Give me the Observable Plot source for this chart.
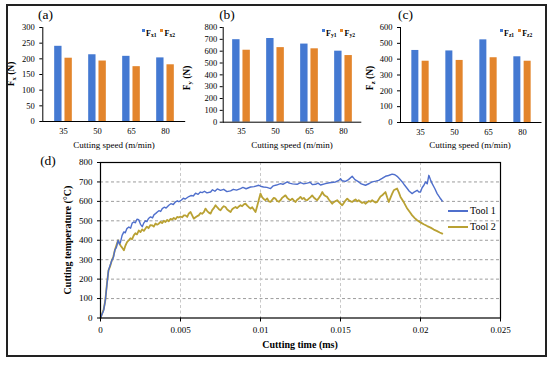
<!DOCTYPE html>
<html><head><meta charset="utf-8">
<script src="https://cdn.jsdelivr.net/npm/d3@7"></script>
<script src="https://cdn.jsdelivr.net/npm/@observablehq/plot@0.6"></script>
<style>
body{margin:0;background:#fff;}
#wrap{position:relative;width:550px;height:365px;overflow:hidden;font-family:"Liberation Serif",serif;background:#fff;}
.t{position:absolute;font-family:"Liberation Serif",serif;color:#000;white-space:nowrap;line-height:1;}
.c{transform:translate(-50%,-50%);}
.r{transform:translate(-50%,-50%) rotate(-90deg);}
sub{font-size:70%;vertical-align:-0.25em;}
</style></head>
<body><div id="wrap"></div>
<script>
// ---------- data ----------
const speeds = ["35", "50", "65", "80"];
const fx1 = [240, 213, 208, 203];
const fx2 = [202, 193, 175, 181];
const fy1 = [697, 707, 660, 600];
const fy2 = [608, 630, 620, 563];
const fz1 = [455, 452, 522, 415];
const fz2 = [387, 392, 409, 387];
const yTicksA = [0, 50, 100, 150, 200, 250, 300];
const yTicksB = [0, 100, 200, 300, 400, 500, 600, 700, 800];
const yTicksC = [0, 100, 200, 300, 400, 500, 600];
const xTicksD = [0, 0.005, 0.01, 0.015, 0.02, 0.025];
const yTicksD = [0, 100, 200, 300, 400, 500, 600, 700, 800];

const tool1 = [
[0,0],[0.0002,40],[0.0003,90],[0.0004,170],[0.0005,245],[0.0006,270],[0.0007,295],[0.0008,310],[0.0009,350],[0.001,365],
[0.0011,400],[0.00118,380],[0.00125,390],[0.00135,425],[0.00146,443],[0.00155,438],[0.00165,460],[0.00177,468],[0.00188,462],[0.00198,488],
[0.00208,494],[0.00218,490],[0.00228,508],[0.00239,506],[0.0025,482],[0.00261,470],[0.0027,488],[0.00281,500],[0.0029,496],[0.003,512],
[0.00313,520],[0.00325,515],[0.00335,532],[0.00344,537],[0.00355,545],[0.00365,552],[0.00376,548],[0.00386,563],[0.00398,570],[0.0041,566],
[0.00427,580],[0.0044,588],[0.00455,584],[0.00469,598],[0.0048,603],[0.0049,598],[0.00506,607],[0.00518,616],[0.0053,612],[0.00552,625],
[0.00565,630],[0.0058,628],[0.00594,642],[0.0061,636],[0.00624,648],[0.00636,645],[0.0065,652],[0.00665,644],[0.00688,648],[0.007,660],
[0.00715,652],[0.0073,664],[0.0075,657],[0.0077,662],[0.0079,650],[0.00813,654],[0.0083,662],[0.0085,658],[0.00875,666],[0.0089,672],
[0.0091,665],[0.00938,674],[0.0096,676],[0.00989,683],[0.01,678],[0.01019,674],[0.0104,672],[0.01063,666],[0.0108,680],[0.011,684],
[0.01125,691],[0.0114,688],[0.01167,700],[0.0118,694],[0.012,690],[0.01229,688],[0.0125,696],[0.0127,690],[0.01292,694],[0.0131,698],
[0.01325,686],[0.01344,688],[0.0136,694],[0.01375,684],[0.01406,691],[0.0143,696],[0.01469,700],[0.0149,708],[0.015,717],[0.0151,706],
[0.01531,703],[0.0155,712],[0.01573,729],[0.0159,712],[0.01614,700],[0.0163,690],[0.01656,683],[0.0168,692],[0.01698,700],[0.0172,704],
[0.01739,708],[0.0176,718],[0.01781,729],[0.018,733],[0.01823,740],[0.0184,737],[0.01854,729],[0.0187,715],[0.01886,700],[0.019,684],
[0.01917,666],[0.0193,652],[0.01948,640],[0.0196,648],[0.01979,657],[0.0199,648],[0.02,648],[0.0201,670],[0.02021,683],[0.02032,700],
[0.02042,690],[0.02052,734],[0.02062,712],[0.02073,691],[0.0209,665],[0.02104,640],[0.0212,620],[0.02136,602]
];
const tool2 = [
[0,0],[0.0002,45],[0.0003,90],[0.0004,175],[0.0005,245],[0.0006,265],[0.0007,295],[0.0008,315],[0.0009,350],[0.001,375],
[0.0011,400],[0.00118,385],[0.00125,373],[0.00135,362],[0.00146,348],[0.00156,373],[0.00166,390],[0.00177,400],[0.00187,410],[0.00197,405],
[0.00208,425],[0.00218,436],[0.00228,430],[0.00239,450],[0.0025,442],[0.0026,456],[0.00271,448],[0.00281,460],[0.0029,470],[0.003,462],
[0.00312,478],[0.00323,477],[0.00333,470],[0.00344,486],[0.00354,480],[0.00364,485],[0.00375,495],[0.00385,488],[0.00396,500],[0.00406,494],
[0.00417,505],[0.00427,498],[0.00438,510],[0.00448,506],[0.00458,515],[0.00469,508],[0.00479,520],[0.00489,517],[0.005,522],[0.0051,518],
[0.00521,528],[0.00531,528],[0.00542,520],[0.00552,538],[0.00563,545],[0.00573,528],[0.00583,511],[0.00594,518],[0.00604,524],[0.00614,528],
[0.00625,540],[0.00635,536],[0.00646,545],[0.00656,563],[0.00667,550],[0.00677,542],[0.00688,537],[0.00698,555],[0.00708,565],[0.00719,580],
[0.00729,570],[0.0074,560],[0.0075,554],[0.0076,566],[0.00771,575],[0.00781,571],[0.00792,558],[0.00802,552],[0.00813,545],[0.00823,560],
[0.00833,566],[0.00844,571],[0.00854,565],[0.00865,574],[0.00875,580],[0.00885,575],[0.00896,585],[0.00906,588],[0.00917,578],[0.00927,570],
[0.00938,563],[0.00948,570],[0.00958,558],[0.00969,545],[0.00979,575],[0.0099,610],[0.01,640],[0.0101,622],[0.0102,612],[0.01031,606],
[0.01042,615],[0.01052,600],[0.01063,597],[0.01073,608],[0.01083,618],[0.01094,614],[0.01104,602],[0.01115,598],[0.01125,606],[0.01135,618],
[0.01146,625],[0.01156,631],[0.01167,618],[0.01177,610],[0.01188,606],[0.01198,614],[0.01208,605],[0.01219,597],[0.01229,608],[0.0124,615],
[0.0125,623],[0.0126,612],[0.01271,618],[0.01281,608],[0.01292,606],[0.01302,614],[0.01313,622],[0.01323,631],[0.01333,620],[0.01344,612],
[0.01354,606],[0.01365,618],[0.01375,630],[0.01386,648],[0.01396,634],[0.01406,628],[0.01417,623],[0.01427,610],[0.01438,598],[0.01448,588],
[0.01458,596],[0.01469,602],[0.01479,606],[0.0149,596],[0.015,588],[0.01511,580],[0.01521,592],[0.01531,604],[0.01542,614],[0.01552,606],
[0.01563,600],[0.01573,597],[0.01583,604],[0.01594,610],[0.01604,600],[0.01614,606],[0.01625,598],[0.01635,592],[0.01646,596],[0.01656,588],
[0.01667,595],[0.01677,602],[0.01688,598],[0.01698,606],[0.01708,600],[0.01719,594],[0.01729,597],[0.0174,612],[0.0175,625],[0.01761,631],
[0.01771,640],[0.01781,648],[0.01792,620],[0.01802,597],[0.01812,618],[0.01823,640],[0.01833,657],[0.01844,662],[0.01854,666],[0.01865,645],
[0.01875,623],[0.01896,595],[0.01917,563],[0.01933,545],[0.01948,528],[0.01964,514],[0.01979,503],[0.02,492],[0.0202,482],[0.02042,473],
[0.02063,465],[0.02083,455],[0.02104,447],[0.0212,440],[0.02136,434]
];

// ---------- styles ----------
const BLUE = "#4479D2", ORANGE = "#E3852C", LINE1 = "#4F6FCC", LINE2 = "#B9A133";
const FONT = "Liberation Serif";
const wrap = document.getElementById("wrap");

function put(el, left, top) {
  el.style.position = "absolute"; el.style.left = left + "px"; el.style.top = top + "px";
  wrap.appendChild(el);
}
function txt(html, x, y, size, cls, extra) {
  const d = document.createElement("div");
  d.className = "t " + (cls || "");
  d.innerHTML = html;
  d.style.fontSize = size + "px";
  if (extra) Object.assign(d.style, extra);
  put(d, x, y);
  return d;
}

function barPanel(o) {
  const data = speeds.map((s, i) => ({speed: s, a: o.v1[i], b: o.v2[i]}));
  const inner = o.width - o.ml - o.mr;
  const step = inner / (speeds.length + 2 * o.po);
  const half = step / 2;
  const chart = Plot.plot({
    width: o.width, height: 155,
    marginLeft: o.ml, marginRight: o.mr, marginTop: 27, marginBottom: o.mb,
    style: {fontFamily: FONT, fontSize: "8.5px", background: "transparent", color: "#000"},
    x: {domain: speeds, paddingInner: 0, paddingOuter: o.po, label: null},
    y: {domain: [0, o.ymax], label: null},
    marks: [
      Plot.barY(data, {x: "speed", y: "a", fill: BLUE, insetLeft: half - 9, insetRight: half + 1.3}),
      Plot.barY(data, {x: "speed", y: "b", fill: ORANGE, insetLeft: half + 1.3, insetRight: half - 9}),
      Plot.ruleY([0], {stroke: "#000", strokeWidth: 1}),
      Plot.frame({anchor: "left", stroke: "#000"}),
      Plot.axisY(o.yticks, {tickSize: 3, tickPadding: o.tp, label: null, fontSize: 8.5}),
      Plot.axisX({tickSize: 0, tickPadding: 6, label: null, fontSize: 8.5})
    ]
  });
  put(chart, o.left, 0);
}

barPanel({left: 0, width: 190, ml: 42.3, mr: 4.8, mb: 34, po: 0.08, ymax: 300, yticks: yTicksA, v1: fx1, v2: fx2, tp: 5});
barPanel({left: 183, width: 183, ml: 39.7, mr: 4.7, mb: 33.3, po: 0.02, ymax: 800, yticks: yTicksB, v1: fy1, v2: fy2, tp: 3});
barPanel({left: 366, width: 180, ml: 34, mr: 4.5, mb: 33, po: 0.04, ymax: 600, yticks: yTicksC, v1: fz1, v2: fz2, tp: 5});

// ---------- temperature panel ----------
const t1 = tool1.map(([t, T]) => ({t, T}));
const t2 = tool2.map(([t, T]) => ({t, T}));
const dChart = Plot.plot({
  width: 550, height: 225,
  marginLeft: 100, marginRight: 50, marginTop: 22, marginBottom: 47.5,
  style: {fontFamily: FONT, fontSize: "9px", background: "transparent", color: "#000"},
  x: {domain: [0, 0.025], label: null},
  y: {domain: [0, 800], label: null},
  marks: [
    Plot.gridY(yTicksD.slice(1, -1), {stroke: "#9c9c9c", strokeOpacity: 1, strokeDasharray: "3,2.5"}),
    Plot.gridX(xTicksD.slice(1, -1), {stroke: "#c8c8c8", strokeOpacity: 1, strokeDasharray: "3,2.5"}),
    Plot.line(t2, {x: "t", y: "T", stroke: LINE2, strokeWidth: 1.8}),
    Plot.line(t1, {x: "t", y: "T", stroke: LINE1, strokeWidth: 1.4}),
    Plot.frame({stroke: "#000", strokeWidth: 1.2}),
    Plot.axisX(xTicksD, {tickSize: 4, tickPadding: 5, tickFormat: d => String(d), label: null, fontSize: 9}),
    Plot.axisY(yTicksD, {tickSize: 3, tickPadding: 5, label: null, fontSize: 9})
  ]
});
put(dChart, 0, 140);

// ---------- texts ----------
txt("(a)", 45.5, 15, 13.5, "c");
txt("(b)", 227, 15, 13.5, "c");
txt("(c)", 405.5, 15, 13.5, "c");
txt("(d)", 48, 161, 13.5, "c");
txt("Cutting speed (m/min)", 114, 145, 9, "c");
txt("Cutting speed (m/min)", 292, 145, 9, "c");
txt("Cutting speed (m/min)", 470, 145, 9, "c");
txt("<b>F<sub>x</sub> (N)</b>", 12, 74, 9.5, "r");
txt("<b>F<sub>y</sub> (N)</b>", 188, 78, 9.5, "r");
txt("<b>F<sub>z</sub> (N)</b>", 371, 78, 9.5, "r");
txt("<b>Cutting temperature (°C)</b>", 68, 240, 10, "r");
txt("<b>Cutting time (ms)</b>", 300, 345, 10, "c");

function barLegend(x, s1, s2) {
  const sq = c => `<span style="display:inline-block;width:3px;height:3px;background:${c};vertical-align:4px;margin-right:1px"></span>`;
  txt(`${sq(BLUE)}<b>F<sub>${s1}</sub></b>&nbsp;&nbsp;${sq(ORANGE)}<b>F<sub>${s2}</sub></b>`, x, 29, 8);
}
barLegend(142, "x1", "x2");
barLegend(322, "y1", "y2");
barLegend(500, "z1", "z2");

function lineLegend(y, color, label) {
  const l = document.createElement("div");
  l.style.width = "20px"; l.style.height = "1.6px"; l.style.background = color;
  put(l, 448, y - 0.8);
  txt(label, 470, y - 5, 10);
}
lineLegend(211, LINE1, "Tool 1");
lineLegend(227, LINE2, "Tool 2");

// outer frame
const fr = document.createElement("div");
Object.assign(fr.style, {width: "541px", height: "353px", border: "2px solid #222", boxSizing: "border-box"});
put(fr, 6, 4);
</script>
</body></html>
